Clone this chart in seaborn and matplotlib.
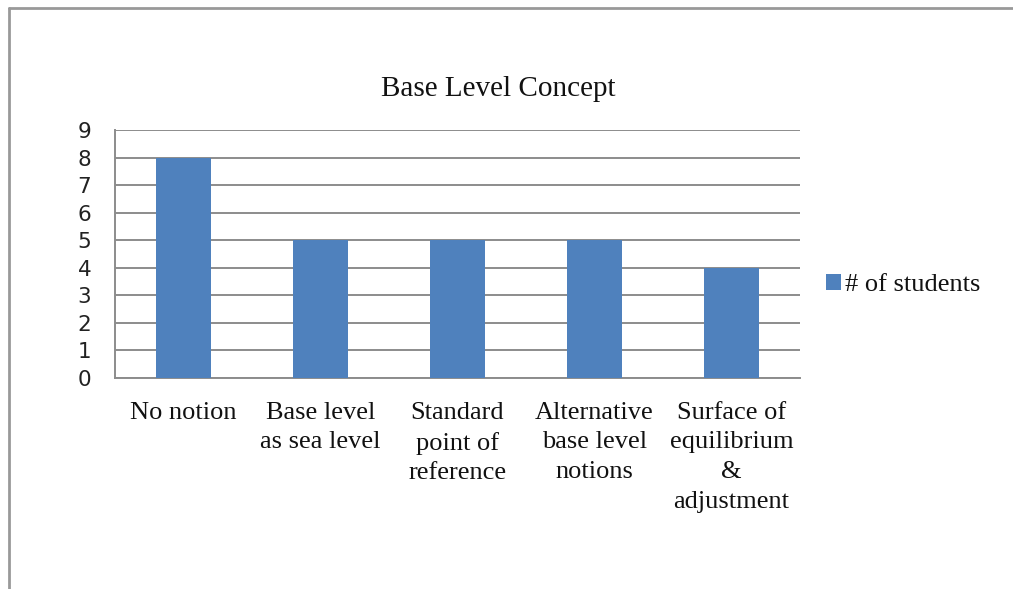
import matplotlib
matplotlib.use("Agg")
import matplotlib.pyplot as plt
from matplotlib.lines import Line2D
import seaborn as sns
import pandas as pd

categories = ["No notion", "Base level\nas sea level", "Standard\npoint of\nreference",
              "Alternative\nbase level\nnotions", "Surface of\nequilibrium\n&\nadjustment"]
students = [8, 5, 5, 5, 4]
series_name = "# of students"

sns.set_theme(style="white")
plt.rcParams['font.family'] = ['Liberation Serif', 'DejaVu Serif']

df = pd.DataFrame({"category": categories, "count": students, "series": series_name})

W, H = 1013, 589
fig = plt.figure(figsize=(W / 100, H / 100), dpi=100)
ax = fig.add_axes([115 / W, 1 - 378 / H, (800 - 115) / W, (378 - 130) / H])

sns.barplot(data=df, x="category", y="count", hue="series", palette=["#4F81BD"],
            width=0.4, dodge=False, saturation=1, linewidth=0, edgecolor="none",
            ax=ax, zorder=3)

grid = "#8c8c8c"
ax.set_xlim(-0.5, 4.5)
ax.set_ylim(0, 9)
ax.set_yticks(range(10))
ax.yaxis.grid(True, color=grid, linewidth=1.4, zorder=0)
ax.set_axisbelow(True)
for s in ["top", "right"]:
    ax.spines[s].set_visible(False)
for s in ["left", "bottom"]:
    ax.spines[s].set_color(grid)
    ax.spines[s].set_linewidth(1.4)

ax.set_xlabel("")
ax.set_ylabel("")
ax.tick_params(axis="y", length=9, width=1.4, color=grid, direction="out", pad=8)
for t in ax.get_yticklabels():
    t.set_fontfamily("DejaVu Sans")
    t.set_fontsize(15.5)
    t.set_color("#222222")

ax.set_xticks([-0.5, 0.5, 1.5, 2.5, 3.5, 4.5], minor=True)
ax.tick_params(axis="x", which="minor", length=7, width=1.4, color=grid, direction="out")
ax.tick_params(axis="x", which="major", length=0, pad=17)
ax.set_xticks(range(len(categories)))
ax.set_xticklabels(categories, fontsize=19, color="#111111", linespacing=1.45)

leg = ax.legend(loc="center left", bbox_to_anchor=(815 / W, 1 - 285 / H),
                bbox_transform=fig.transFigure, frameon=False, fontsize=19,
                handlelength=0.6, handleheight=0.6, handletextpad=0.15, borderaxespad=0)
for t in leg.get_texts():
    t.set_color("#111111")

fig.text(498 / W, 1 - 89 / H, "Base Level Concept", ha="center", va="center",
         fontsize=21, color="#111111")

border = "#999999"
fig.add_artist(Line2D([8.5 / W, 8.5 / W], [0, 1 - 7.5 / H], color=border, linewidth=2))
fig.add_artist(Line2D([8.5 / W, 1], [1 - 7.5 / H, 1 - 7.5 / H], color=border, linewidth=2))

fig.savefig("out.png", dpi=100)
